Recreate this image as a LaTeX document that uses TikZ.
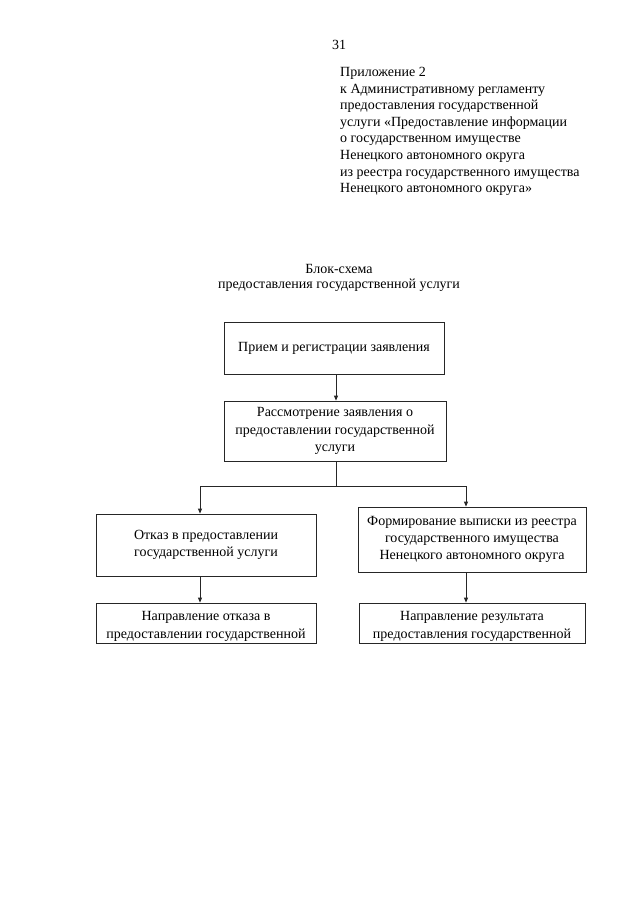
\documentclass[tikz,border=0pt]{standalone}
\usepackage{fontspec}
\setmainfont{Liberation Serif}
\usetikzlibrary{arrows.meta}
\begin{document}
\begin{tikzpicture}[x=1pt,y=-1pt,
  every node/.style={inner sep=0pt, font=\fontsize{14}{17.3}\selectfont},
  blk/.style={draw=black!85, line width=0.8pt, align=center, anchor=center},
  conn/.style={draw=black!85, line width=0.8pt},
  arr/.style={conn, -{Triangle[length=5pt,width=4pt]}}
]
\useasboundingbox[fill=white] (0,0) rectangle (640,905);
\node (pg) at (339,45) {31};
\node[anchor=north west, align=left, font=\fontsize{14}{16.6}\selectfont] (hdr) at (340,67) {Приложение 2\\
к Административному регламенту\\
предоставления государственной\\
услуги «Предоставление информации\\
о государственном имуществе\\
Ненецкого автономного округа\\
из реестра государственного имущества\\
Ненецкого автономного округа»};
\node[align=center, font=\fontsize{14}{15.5}\selectfont] (title) at (339,278) {Блок-схема\\предоставления государственной услуги};

\node[blk, minimum width=220, minimum height=52] (b1) at (334,348) {Прием и регистрации заявления};
\node[blk, minimum width=222, minimum height=60] (b2) at (335,431) {Рассмотрение заявления о\\предоставлении государственной\\услуги};
\node[blk, minimum width=220, minimum height=62] (b3) at (206,545) {Отказ в предоставлении\\государственной услуги};
\node[blk, minimum width=228, minimum height=65] (b4) at (472,539.5) {Формирование выписки из реестра\\государственного имущества\\Ненецкого автономного округа};
\node[blk, minimum width=220, minimum height=40] (b5) at (206,623) {\rule{0pt}{16pt}Направление отказа в\\предоставлении государственной};
\node[blk, minimum width=226, minimum height=40] (b6) at (472,623) {\rule{0pt}{16pt}Направление результата\\предоставления государственной};

\coordinate (m) at (336,486);
\coordinate (l) at (200,486);
\coordinate (r) at (466,486);
\draw[arr] (b1.south -| m) -- (b2.north -| m);
\draw[conn] (b2.south -| m) -- (m);
\draw[conn] (l) -- (r);
\draw[arr] (l) -- (l |- b3.north);
\draw[arr] (r) -- (r |- b4.north);
\draw[arr] (l |- b3.south) -- (l |- b5.north);
\draw[arr] (r |- b4.south) -- (r |- b6.north);
\end{tikzpicture}
\end{document}
